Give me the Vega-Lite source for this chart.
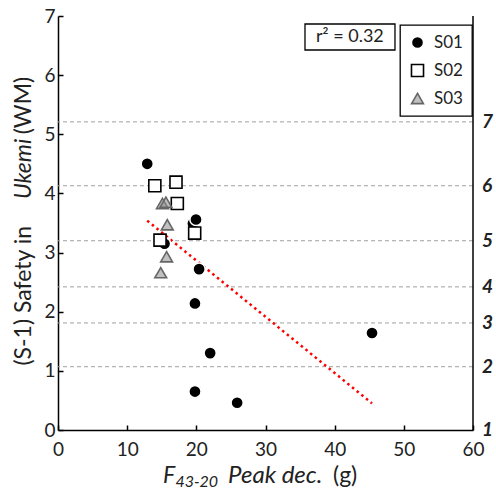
{
  "$schema": "https://vega.github.io/schema/vega-lite/v6.json",
  "autosize": {"type": "none"},
  "width": 415,
  "height": 414,
  "padding": {"left": 58, "top": 16, "right": 23, "bottom": 70},
  "background": "white",
  "datasets": {
    "pts": [
      {"x": 12.9, "y": 4.50, "s": "S01"},
      {"x": 19.5, "y": 3.49, "s": "S01"},
      {"x": 19.95, "y": 3.56, "s": "S01"},
      {"x": 20.4, "y": 2.72, "s": "S01"},
      {"x": 15.4, "y": 3.15, "s": "S01"},
      {"x": 19.8, "y": 2.14, "s": "S01"},
      {"x": 22.0, "y": 1.30, "s": "S01"},
      {"x": 19.8, "y": 0.65, "s": "S01"},
      {"x": 25.9, "y": 0.46, "s": "S01"},
      {"x": 45.4, "y": 1.64, "s": "S01"},
      {"x": 14.0, "y": 4.13, "s": "S02"},
      {"x": 17.06, "y": 4.19, "s": "S02"},
      {"x": 17.25, "y": 3.83, "s": "S02"},
      {"x": 19.76, "y": 3.33, "s": "S02"},
      {"x": 14.75, "y": 3.21, "s": "S02"},
      {"x": 15.1, "y": 3.83, "s": "S03"},
      {"x": 15.6, "y": 3.85, "s": "S03"},
      {"x": 15.8, "y": 3.47, "s": "S03"},
      {"x": 15.7, "y": 2.93, "s": "S03"},
      {"x": 14.85, "y": 2.66, "s": "S03"}
    ],
    "fit": [
      {"x": 12.9, "y": 3.54},
      {"x": 45.4, "y": 0.45}
    ],
    "right": [
      {"g": 5.21, "lab": "7"},
      {"g": 4.13, "lab": "6"},
      {"g": 3.20, "lab": "5"},
      {"g": 2.42, "lab": "4"},
      {"g": 1.81, "lab": "3"},
      {"g": 1.07, "lab": "2"},
      {"g": 0.0, "lab": "1"}
    ],
    "one": [{}]
  },
  "layer": [
    {
      "data": {"name": "right"},
      "transform": [{"filter": "datum.g > 0"}],
      "mark": {"type": "rule", "color": "#a0a0a0", "strokeWidth": 1, "strokeDash": [4, 3]},
      "encoding": {
        "y": {"field": "g", "type": "quantitative", "scale": {"domain": [0, 7], "nice": false},
          "axis": {"values": [0, 1, 2, 3, 4, 5, 6, 7], "format": "d", "title": null, "grid": false, "tickSize": -5, "tickWidth": 1.5, "tickColor": "black", "domainColor": "black", "domainWidth": 1.5, "labelFontSize": 19, "labelColor": "#222", "labelPadding": 8, "labelFont": "Lato", "labelFlush": false}}
      }
    },
    {
      "data": {"name": "right"},
      "mark": {"type": "text", "align": "left", "baseline": "middle", "dx": 9, "fontSize": 19, "fontWeight": "bold", "fontStyle": "italic", "color": "#222"},
      "encoding": {
        "x": {"datum": 60, "type": "quantitative"},
        "y": {"field": "g", "type": "quantitative", "axis": {"title": null, "format": "d"}},
        "text": {"field": "lab"}
      }
    },
    {
      "data": {"name": "one"},
      "mark": {"type": "rule", "color": "black", "strokeWidth": 1.5},
      "encoding": {"x": {"datum": 60, "type": "quantitative"}}
    },
    {
      "data": {"name": "fit"},
      "mark": {"type": "line", "color": "#ff0000", "strokeWidth": 2.5, "strokeDash": [2.5, 3.5]},
      "encoding": {
        "x": {"field": "x", "type": "quantitative", "axis": {"title": null}},
        "y": {"field": "y", "type": "quantitative", "axis": {"title": null, "format": "d"}}
      }
    },
    {
      "data": {"name": "pts"},
      "mark": {"type": "point", "filled": true, "strokeWidth": 1.6, "opacity": 1},
      "encoding": {
        "x": {
          "field": "x", "type": "quantitative",
          "scale": {"domain": [0, 60], "nice": false},
          "axis": {"values": [0, 10, 20, 30, 40, 50, 60], "format": "d", "title": null, "grid": false, "tickSize": -5, "tickWidth": 1.5, "tickColor": "black", "domainColor": "black", "domainWidth": 1.5, "labelFontSize": 19, "labelColor": "#222", "labelPadding": 15, "labelFont": "Lato", "labelFlush": false}
        },
        "y": {
          "field": "y", "type": "quantitative",
          "scale": {"domain": [0, 7], "nice": false},
          "axis": {"values": [0, 1, 2, 3, 4, 5, 6, 7], "format": "d", "title": null, "grid": false, "tickSize": -5, "tickWidth": 1.5, "tickColor": "black", "domainColor": "black", "domainWidth": 1.5, "labelFontSize": 19, "labelColor": "#222", "labelPadding": 8, "labelFont": "Lato", "labelFlush": false}
        },
        "shape": {"field": "s", "type": "nominal", "scale": {"domain": ["S01", "S02", "S03"], "range": ["circle", "square", "triangle-up"]}, "legend": {"title": null}},
        "fill": {"field": "s", "type": "nominal", "scale": {"domain": ["S01", "S02", "S03"], "range": ["black", "white", "rgba(140,140,140,0.55)"]}, "legend": {"title": null}},
        "stroke": {"field": "s", "type": "nominal", "scale": {"domain": ["S01", "S02", "S03"], "range": ["white", "black", "#666666"]}, "legend": {"title": null}},
        "size": {"field": "s", "type": "nominal", "scale": {"domain": ["S01", "S02", "S03"], "range": [150, 140, 210]}, "legend": {"title": null}},
        "order": {"field": "s", "type": "nominal"}
      }
    },
    {
      "data": {"name": "one"},
      "mark": {"type": "rect", "fill": "white", "stroke": "black", "strokeWidth": 1.3},
      "encoding": {
        "x": {"datum": 35.71, "type": "quantitative"},
        "x2": {"datum": 48.72},
        "y": {"datum": 6.865, "type": "quantitative"},
        "y2": {"datum": 6.425}
      }
    },
    {
      "data": {"name": "one"},
      "mark": {"type": "text", "text": "r\u00b2 = 0.32", "fontSize": 18, "align": "center", "baseline": "middle", "color": "#222"},
      "encoding": {
        "x": {"datum": 42.2, "type": "quantitative"},
        "y": {"datum": 6.64, "type": "quantitative"}
      }
    },
    {
      "data": {"name": "one"},
      "mark": {"type": "text", "text": "(S-1) Safety in", "fontSize": 23, "angle": 270, "align": "right", "baseline": "alphabetic", "color": "#222"},
      "encoding": {"x": {"datum": -3.9, "type": "quantitative"}, "y": {"datum": 3.45, "type": "quantitative"}}
    },
    {
      "data": {"name": "one"},
      "mark": {"type": "text", "text": "Ukemi", "fontSize": 23, "fontStyle": "italic", "angle": 270, "align": "left", "baseline": "alphabetic", "color": "#222"},
      "encoding": {"x": {"datum": -3.9, "type": "quantitative"}, "y": {"datum": 3.906, "type": "quantitative"}}
    },
    {
      "data": {"name": "one"},
      "mark": {"type": "text", "text": "(WM)", "fontSize": 23, "angle": 270, "align": "left", "baseline": "alphabetic", "color": "#222"},
      "encoding": {"x": {"datum": -3.9, "type": "quantitative"}, "y": {"datum": 5.0, "type": "quantitative"}}
    },
    {
      "data": {"name": "one"},
      "mark": {"type": "text", "text": "F", "fontSize": 23, "fontStyle": "italic", "align": "left", "baseline": "alphabetic", "color": "#222"},
      "encoding": {"x": {"datum": 15.18, "type": "quantitative"}, "y": {"datum": -0.896, "type": "quantitative"}}
    },
    {
      "data": {"name": "one"},
      "mark": {"type": "text", "text": "43-20", "fontSize": 16, "fontStyle": "italic", "align": "left", "baseline": "alphabetic", "color": "#222"},
      "encoding": {"x": {"datum": 16.97, "type": "quantitative"}, "y": {"datum": -0.964, "type": "quantitative"}}
    },
    {
      "data": {"name": "one"},
      "mark": {"type": "text", "text": "Peak dec.", "fontSize": 24, "fontStyle": "italic", "align": "left", "baseline": "alphabetic", "color": "#222"},
      "encoding": {"x": {"datum": 24.58, "type": "quantitative"}, "y": {"datum": -0.896, "type": "quantitative"}}
    },
    {
      "data": {"name": "one"},
      "mark": {"type": "text", "text": "(g)", "fontSize": 23, "align": "left", "baseline": "alphabetic", "color": "#222"},
      "encoding": {"x": {"datum": 39.76, "type": "quantitative"}, "y": {"datum": -0.896, "type": "quantitative"}}
    }
  ],
  "config": {
    "view": {"stroke": null},
    "font": "Lato",
    "legend": {
      "orient": "none",
      "legendX": 342,
      "legendY": 9,
      "strokeColor": "black",
      "strokeWidth": 1.3,
      "padding": 9,
      "labelFont": "Lato",
      "labelFontSize": 17,
      "labelColor": "#222",
      "rowPadding": 9,
      "symbolStrokeWidth": 1.6,
      "labelOffset": 8,
      "fillColor": "white"
    }
  }
}
